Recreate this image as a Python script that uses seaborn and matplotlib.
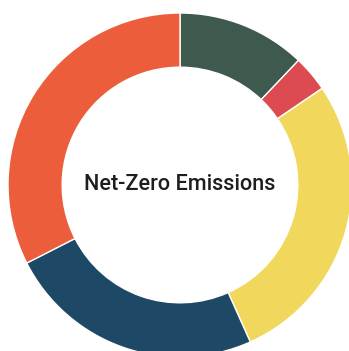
import matplotlib
matplotlib.use("Agg")
import matplotlib.pyplot as plt
import seaborn as sns

sns.set_theme(style="white")
plt.rcParams["font.family"] = ["Roboto", "DejaVu Sans"]

# Segment shares, clockwise from 12 o'clock
sectors = ["Sector A", "Sector B", "Sector C", "Sector D", "Sector E"]
shares = [12.1, 3.4, 27.8, 24.2, 32.5]
colors = ["#3e594e", "#dc4b51", "#f1d85d", "#1e4966", "#ec5e3b"]
title = "Net-Zero Emissions"

W, H = 349, 351
fig = plt.figure(figsize=(W / 100, H / 100), dpi=100)
cx, cy, r = 180, 185, 172
ax = fig.add_axes([(cx - r) / W, (H - cy - r) / H, 2 * r / W, 2 * r / H])

ax.pie(
    shares,
    colors=colors,
    startangle=90,
    counterclock=False,
    radius=1.0,
    wedgeprops=dict(width=0.315, edgecolor="white", linewidth=1.0),
)
ax.set_xlim(-1, 1)
ax.set_ylim(-1, 1)
ax.set_aspect("equal")
ax.axis("off")

ax.text(0, 0, title, ha="center", va="center", fontsize=15.6,
        color="#1e1e1e", fontweight="medium")

fig.savefig("out.png", dpi=100, facecolor="white")
